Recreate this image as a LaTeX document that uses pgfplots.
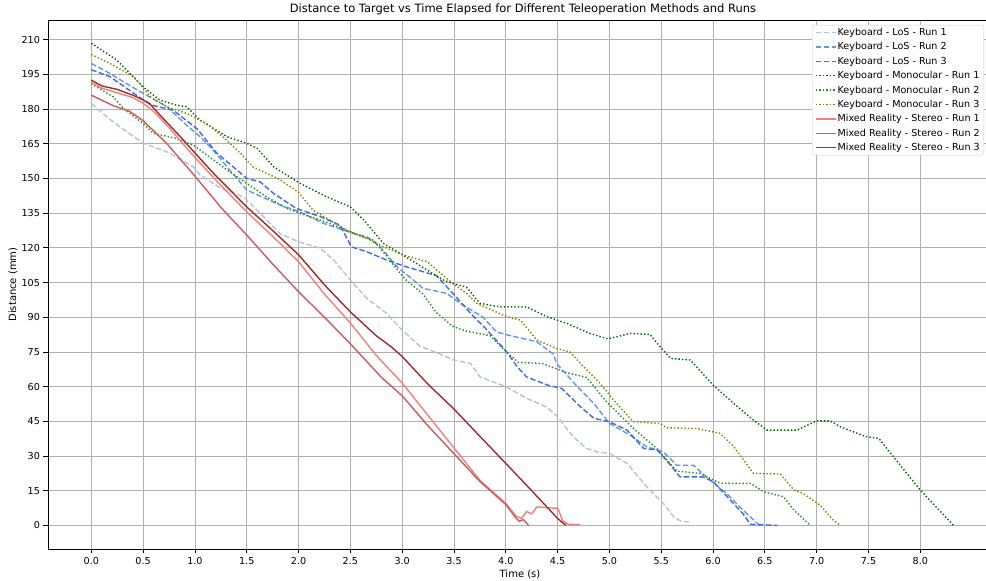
\documentclass[border=0pt]{standalone}
\usepackage{fontspec}
\setmainfont{DejaVu Sans}
\usepackage{pgfplots}
\pgfplotsset{compat=1.18}
\definecolor{lsteel}{RGB}{176,196,222}
\definecolor{cflower}{RGB}{100,149,237}
\definecolor{rblue}{RGB}{65,105,225}
\definecolor{dgreen}{RGB}{0,100,0}
\definecolor{fgreen}{RGB}{34,139,34}
\definecolor{olivec}{RGB}{128,128,0}
\definecolor{lcoral}{RGB}{240,128,128}
\definecolor{ired}{RGB}{205,92,92}
\definecolor{brownc}{RGB}{165,42,42}
\definecolor{gridc}{RGB}{176,176,176}
\tikzset{
    dashln/.style={draw=#1, line width=1.4pt, dash pattern=on 5.5pt off 2.4pt},
    dotln/.style={draw=#1, line width=1.4pt, dash pattern=on 1.4pt off 2.1pt},
    solidln/.style={draw=#1, line width=1.4pt}
}
\begin{document}
\begin{tikzpicture}
\begin{axis}[
    scale only axis, width=938pt, height=529pt,
    xmin=-0.418, xmax=8.634, ymin=-10.2, ymax=218.5,
    axis x line*=bottom, axis y line*=left,
    axis line style={black, line width=0.8pt},
    tick align=outside, major tick length=4.5pt,
    tick style={black, line width=0.8pt},
    xtick={0,0.5,1,1.5,2,2.5,3,3.5,4,4.5,5,5.5,6,6.5,7,7.5,8},
    ytick={0,15,30,45,60,75,90,105,120,135,150,165,180,195,210},
    /pgf/number format/assume math mode=true,
    xticklabel style={/pgf/number format/.cd, fixed, fixed zerofill, precision=1},
    tick label style={font=\fontsize{9.6}{11}\selectfont},
    label style={font=\fontsize{9.6}{11}\selectfont},
    grid=major, grid style={gridc, line width=0.8pt},
    title={Distance to Target vs Time Elapsed for Different Teleoperation Methods and Runs},
    every axis title/.style={font=\fontsize{11.5}{13}\selectfont, at={(0.5,1)}, anchor=center, yshift=11pt, xshift=6pt},
    xlabel={Time (s)}, ylabel={Distance (mm)},
    every axis x label/.style={at={(0.5,0)}, anchor=center, yshift=-25pt, xshift=3pt},
    every axis y label/.style={at={(-0.0373,0.5)}, anchor=center, rotate=90},
    legend image code/.code={\draw[#1, line width=1.4pt] (0pt,0pt) -- (20pt,0pt);},
    legend cell align=left,
    legend style={at={(1,1)}, anchor=north east, xshift=-2pt, yshift=-5pt,
        font=\fontsize{9.6}{11}\selectfont, draw=black!20,
        rounded corners=2pt, fill=white,
        inner xsep=3pt, inner ysep=2pt, row sep=3.6pt, nodes={inner sep=1pt}},
]
% Keyboard - LoS
\addplot[dashln=lsteel] coordinates {
(0,182.4)(0.18,175.5)(0.35,170)(0.5,165.2)(0.73,161.5)(0.985,155)(1.05,151.5)
(1.24,146)(1.47,142)(1.6,136.3)(1.82,126.2)(2.0,122.6)(2.21,119.8)(2.34,114.7)
(2.5,106)(2.66,98.1)(2.85,91.7)(3.0,84.4)(3.17,77.5)(3.37,74)(3.5,71.5)(3.66,70)
(3.75,64.2)(4.0,60)(4.2,55)(4.4,51)(4.5,47)(4.65,38.3)(4.78,33.3)(4.88,31.8)
(5.0,31.1)(5.17,26.8)(5.36,16.7)(5.52,9.5)(5.62,3.7)(5.7,1.6)(5.78,1.6)};
\addlegendentry{Keyboard - LoS - Run 1}
\addplot[dashln=cflower] coordinates {
(0,199.7)(0.18,195.4)(0.34,191)(0.5,186.8)(0.73,181)(0.92,173)(1.05,168)
(1.18,162)(1.31,155)(1.5,145)(1.82,138.5)(2.01,135.6)(2.24,130.6)(2.53,126.2)
(2.66,124.8)(2.79,120.4)(2.95,111.8)(3.11,106)(3.2,102.5)(3.43,100.3)(3.56,96)
(3.78,90)(3.91,83.7)(4.0,82.5)(4.3,79.4)(4.46,74)(4.49,70)(4.69,60)(4.85,52.7)
(5.0,44.1)(5.2,39)(5.36,34)(5.52,31.8)(5.65,26)(5.81,26)(5.97,19.6)(6.13,13.8)
(6.29,6.6)(6.41,1.6)(6.45,0)};
\addlegendentry{Keyboard - LoS - Run 2}
\addplot[dashln=rblue] coordinates {
(0,197)(0.18,194)(0.5,184)(0.6,181.5)(0.79,179.5)(1.02,171.5)(1.21,161)
(1.37,155)(1.5,150)(1.63,148.5)(1.76,143.5)(1.98,137)(2.21,133.5)(2.4,129.8)
(2.51,120.4)(2.66,118.3)(2.85,114.7)(3.04,111.8)(3.33,108)(3.49,100.3)
(3.66,91.7)(3.82,84.4)(4.0,75.5)(4.11,68.6)(4.2,64.2)(4.4,60.7)(4.54,59.2)
(4.72,51.3)(4.85,46.3)(5.0,44.8)(5.17,41.2)(5.33,33.3)(5.46,32.6)(5.55,28.2)
(5.68,21)(5.9,21)(6.0,19)(6.29,5)(6.36,0.5)(6.62,0)};
\addlegendentry{Keyboard - LoS - Run 3}
% Keyboard - Monocular
\addplot[dotln=dgreen] coordinates {
(0,208.4)(0.245,201.2)(0.5,189.6)(0.66,183.9)(0.82,181.7)(0.92,181)(1.05,175.2)
(1.31,168)(1.5,165.2)(1.6,163)(1.76,155)(2.01,148)(2.25,142.5)(2.5,137.7)
(2.63,132)(2.82,121.9)(2.98,117.6)(3.24,110.4)(3.4,106)(3.49,104.6)(3.62,103)
(3.75,96)(3.94,94.5)(4.2,94.5)(4.4,90.2)(4.59,87.3)(4.81,83)(4.97,80.8)(5.0,80.8)
(5.2,83)(5.39,82.6)(5.49,77.2)(5.59,72.2)(5.78,71.5)(6.0,60.7)(6.2,52.7)
(6.39,45.5)(6.52,41.2)(6.81,41.2)(7.0,45.2)(7.13,45.2)(7.23,42.6)(7.48,38.3)
(7.6,37.6)(7.74,29.7)(8.0,15.3)(8.32,0)};
\addlegendentry{Keyboard - Monocular - Run 1}
\addplot[dotln=fgreen] coordinates {
(0,191)(0.21,185.3)(0.31,180.3)(0.5,173.8)(0.6,169.5)(0.82,167.3)(0.985,164.4)
(1.18,158)(1.31,153.6)(1.5,147.9)(1.69,142.1)(1.89,137)(2.01,135)(2.3,130.6)
(2.6,125)(2.72,123.3)(2.85,116.5)(2.98,109)(3.04,106)(3.2,100)(3.33,92)
(3.49,86)(3.62,84)(3.85,82)(3.98,76)(4.12,70.5)(4.35,70)(4.59,66)(4.78,64)
(4.97,53.5)(5.23,42)(5.45,33.5)(5.65,23.5)(5.87,22.5)(6.07,18.2)(6.36,18.2)
(6.49,14.5)(6.68,12.4)(6.78,6.6)(6.94,0)};
\addlegendentry{Keyboard - Monocular - Run 2}
\addplot[dotln=olivec] coordinates {
(0,203.6)(0.18,199.7)(0.41,194)(0.57,185.3)(0.73,181)(0.92,178.1)(1.11,173.8)
(1.27,168)(1.44,160.8)(1.56,155)(1.66,152.9)(1.82,149.5)(2.0,144)(2.14,136.3)
(2.3,132)(2.46,127.7)(2.66,124.1)(2.82,120.4)(3.01,116.9)(3.24,114)(3.37,109)
(3.49,104.6)(3.62,100.3)(3.72,96)(4.01,90.2)(4.14,88.8)(4.3,80.1)(4.49,76.5)
(4.62,75)(4.72,70)(4.91,61.4)(5.04,54.2)(5.23,44.8)(5.49,44.1)(5.55,42.2)
(5.84,41.9)(6.07,39.8)(6.2,34)(6.39,22.5)(6.65,22.2)(6.78,15.3)(6.87,13.8)
(7.03,8.8)(7.16,2.3)(7.23,0)};
\addlegendentry{Keyboard - Monocular - Run 3}
% Mixed Reality - Stereo
\addplot[solidln=lcoral] coordinates {
(0,191.5)(0.1,189)(0.25,187)(0.4,185)(0.5,182.5)(0.6,179)(0.75,172)(1.0,159)
(1.25,147)(1.5,135.5)(1.75,125)(2.0,114)(2.25,100)(2.5,87.5)(2.75,73.5)
(3.0,61.5)(3.25,47.5)(3.5,33.5)(3.75,19.5)(4.0,9.5)(4.1,4)(4.15,3)(4.2,6)
(4.25,5)(4.3,8)(4.45,7.5)(4.5,7.5)(4.55,2)(4.6,0.5)(4.72,0.3)};
\addlegendentry{Mixed Reality - Stereo - Run 1}
\addplot[solidln=ired] coordinates {
(0,186)(0.21,181.5)(0.37,179)(0.5,175)(0.73,165)(1.0,151)(1.26,137)(1.5,125.5)
(1.75,113)(2.0,101)(2.25,90)(2.5,78.5)(2.8,64)(3.0,56)(3.25,43)(3.5,31)
(3.75,19)(4.0,9)(4.1,3)(4.13,1.8)(4.17,2.5)(4.22,0)};
\addlegendentry{Mixed Reality - Stereo - Run 2}
\addplot[solidln=brownc] coordinates {
(0,192.5)(0.1,190)(0.25,188.5)(0.4,186)(0.5,184)(0.57,182)(0.65,178)(0.86,168)
(1.0,161)(1.18,152.2)(1.5,137.7)(1.75,127.5)(2.0,117)(2.25,104)(2.5,92.3)
(2.75,82)(2.9,77)(3.0,73)(3.25,61)(3.5,50.3)(3.75,38.5)(4.0,26.8)(4.25,15)
(4.5,3)(4.58,0)};
\addlegendentry{Mixed Reality - Stereo - Run 3}
\end{axis}
\draw[black, line width=0.8pt] (-0.4pt,529pt) -- (938pt,529pt);
\pgfresetboundingbox
\useasboundingbox (-48pt,-32pt) rectangle (938pt,549pt);
\end{tikzpicture}
\end{document}
